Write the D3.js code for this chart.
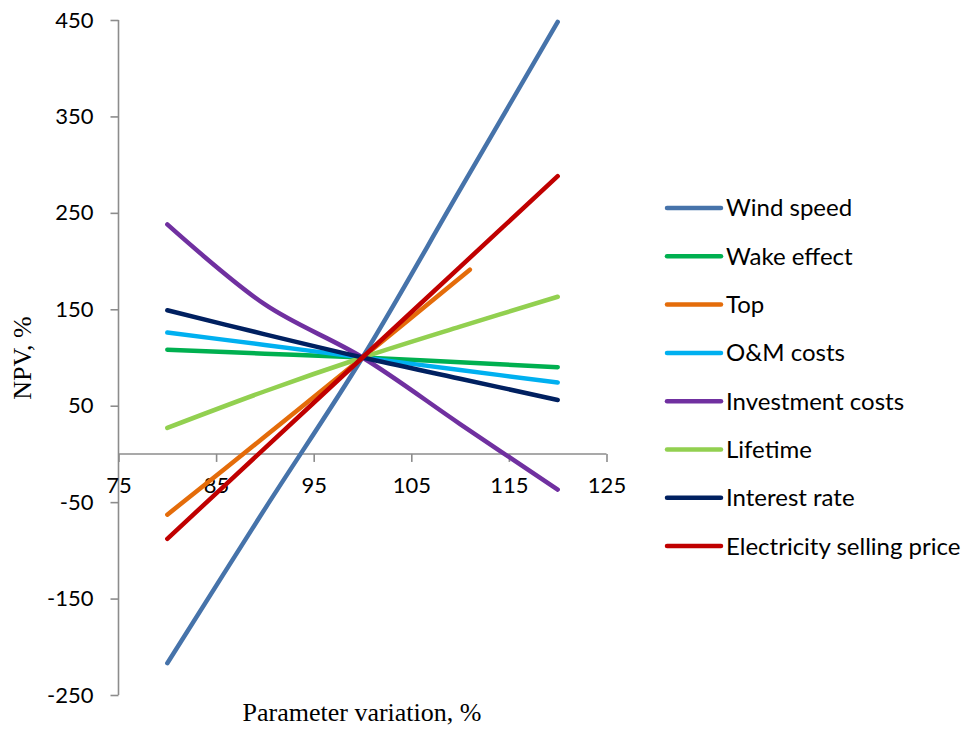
<!DOCTYPE html>
<html>
<head>
<meta charset="utf-8">
<script src="https://cdn.jsdelivr.net/npm/d3@7"></script>
<style>
  html, body { margin: 0; padding: 0; background: #fff; }
  svg { display: block; }
</style>
</head>
<body>
<svg id="chart" width="978" height="733"></svg>
<script>
// Sensitivity of NPV (%) to parameter variation (%)
const seriesNames = ["Wind speed", "Wake effect", "Top", "O&M costs",
  "Investment costs", "Lifetime", "Interest rate", "Electricity selling price"];
const seriesColors = ["#4673AA", "#00B050", "#E46C0A", "#00B0F0",
  "#7030A0", "#92D050", "#002060", "#C00000"];

const variation = [80, 90, 100, 110, 120];
const variationTop = [80, 90, 100, 111];

const windSpeed   = [-217, -57, 100, 274, 448];
const wakeEffect  = [108, 104, 100, 95, 90];
const top_        = [-63, 18, 100, 191];
const omCosts     = [126, 113, 100, 87, 74];
const investment  = [238, 155, 100, 31, -37];
const lifetime    = [27, 65, 100, 132, 163];
const interest    = [149, 124, 100, 78, 56];
const electricity = [-88, 6, 100, 194, 288];

const xTicks = [75, 85, 95, 105, 115, 125];
const yTicks = [-250, -150, -50, 50, 150, 250, 350, 450];

const seriesValues = [windSpeed, wakeEffect, top_, omCosts, investment, lifetime, interest, electricity];
const seriesX = [variation, variation, variationTop, variation, variation, variation, variation, variation];

const svg = d3.select("#chart");
const x = d3.scaleLinear().domain([75, 125]).range([118.5, 606.5]);
const y = d3.scaleLinear().domain([-250, 450]).range([695, 20]);

const axisColor = "#8c8c8c";
const tickFont = "Lato, 'Open Sans', sans-serif";
const titleFont = "'Liberation Serif', 'Times New Roman', serif";
const fmt = d => String(d); // plain hyphen for negatives

// y axis at x = 75
const yAxis = svg.append("g")
  .attr("transform", `translate(${x(75)},0)`)
  .call(d3.axisLeft(y).tickValues(yTicks).tickFormat(fmt).tickSize(8).tickPadding(17).tickSizeOuter(0));
yAxis.select(".domain").attr("stroke", axisColor).attr("stroke-width", 1.6)
  .attr("d", `M0,${y(450)}V${y(-250)}`);
yAxis.selectAll(".tick line").attr("stroke", axisColor).attr("stroke-width", 1.6);
yAxis.selectAll(".tick text").attr("font-family", tickFont).attr("font-size", 22).attr("fill", "#000");

// x axis at y = 0
const xAxis = svg.append("g")
  .attr("transform", `translate(0,${y(0)})`)
  .call(d3.axisBottom(x).tickValues(xTicks).tickFormat(fmt).tickSize(8).tickPadding(15).tickSizeOuter(0));
xAxis.select(".domain").attr("stroke", axisColor).attr("stroke-width", 1.6)
  .attr("d", `M${x(75)},0H${x(125)}`);
xAxis.selectAll(".tick line").attr("stroke", axisColor).attr("stroke-width", 1.6);
xAxis.selectAll(".tick text").attr("font-family", tickFont).attr("font-size", 22).attr("fill", "#000");

// series lines
const line = d3.line()
  .x(d => x(d[0]))
  .y(d => y(d[1]))
  .curve(d3.curveCatmullRom.alpha(0.5));

seriesNames.forEach((name, i) => {
  const pts = seriesX[i].map((v, j) => [v, seriesValues[i][j]]);
  svg.append("path")
    .datum(pts)
    .attr("d", line)
    .attr("fill", "none")
    .attr("stroke", seriesColors[i])
    .attr("stroke-width", 4.5)
    .attr("stroke-linecap", "round")
    .attr("stroke-linejoin", "round");
});

// legend
const legend = svg.append("g").attr("transform", "translate(667,208)");
seriesNames.forEach((name, i) => {
  const g = legend.append("g").attr("transform", `translate(0,${i * 48.3})`);
  g.append("line")
    .attr("x1", 0).attr("x2", 54).attr("y1", 0).attr("y2", 0)
    .attr("stroke", seriesColors[i]).attr("stroke-width", 4.5)
    .attr("stroke-linecap", "round");
  g.append("text")
    .attr("x", 59).attr("y", 0).attr("dy", "0.35em")
    .attr("font-family", tickFont).attr("font-size", 24)
    .attr("fill", "#000")
    .text(name);
});

// axis titles
svg.append("text")
  .attr("x", 362).attr("y", 712).attr("dy", "0.35em")
  .attr("text-anchor", "middle")
  .attr("font-family", titleFont)
  .attr("font-size", 26)
  .text("Parameter variation, %");

svg.append("text")
  .attr("transform", "translate(22,358) rotate(-90)")
  .attr("dy", "0.35em")
  .attr("text-anchor", "middle")
  .attr("font-family", titleFont)
  .attr("font-size", 26)
  .text("NPV, %");
</script>
</body>
</html>
